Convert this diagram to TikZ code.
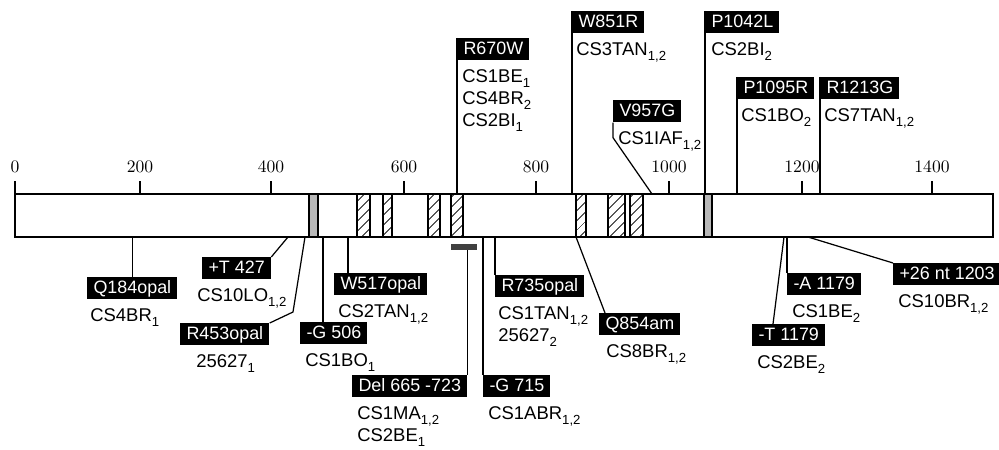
\documentclass[tikz,border=0pt]{standalone}
\usepackage{fontspec}
\setsansfont{Liberation Sans}
\usetikzlibrary{patterns.meta}
\newcommand{\ix}[1]{\raisebox{-.5ex}{\fontsize{7.5}{8}\selectfont #1}}

\begin{document}
\begin{tikzpicture}[x=0.02cm, y=-0.02cm,
        mut/.style={fill=black, text=white, anchor=north west, font=\sffamily\fontsize{10.2}{12}\selectfont,
            inner xsep=3.5pt, inner ysep=1pt, text height=8pt, text depth=2.5pt},
        info/.style={anchor=north west, inner sep=0pt, align=left, font=\sffamily\fontsize{10.5}{12.5}\selectfont},
        lead/.style={line width=0.7pt},
        hatch/.style={draw, line width=0.6pt, pattern={Lines[angle=45, distance=4pt, line width=0.5pt]}},
        stip/.style={draw, line width=0.6pt, fill=black!28}]
        \useasboundingbox (0,0) rectangle (999,449);

        % the gene bar and its scale
        \draw[line width=0.8pt] (15,194) rectangle (993,237);
        \coordinate (top) at (15,194);
        \coordinate (bot) at (15,237);
        \foreach \x/\v in {15/0, 140/200, 271/400, 404/600, 536/800, 669/1000, 802/1200, 932/1400} {
            \draw[line width=0.9pt] (\x,181) -- (\x,194);
            \node (n\v) at (\x,167) {\v};
        }
        \filldraw[stip] (309,194) rectangle (318,237);
        \filldraw[stip] (704,194) rectangle (712,237);
        \foreach \a/\b in {357/370, 383/392, 428/440, 451/463, 576/586, 608/625, 630/643} {
            \draw[hatch] (\a,194) rectangle (\b,237);
        }
        \fill[black!75] (451,244) rectangle (477,250);
        \coordinate (dbar) at (464,250);

        % above the bar
        \node[mut] (r670) at (457,38) {R670W};
        \node[info] (r670i) at ([shift={(5,9)}]r670.south west) {CS1BE\ix{1}\\CS4BR\ix{2}\\CS2BI\ix{1}};
        \draw[lead] (r670.north west) -- (r670.north west |- top);

        \node[mut] (w851) at (572,11) {W851R};
        \node[info] (w851i) at ([shift={(4,9)}]w851.south west) {CS3TAN\ix{1,2}};
        \draw[lead] (w851.north west) -- (w851.north west |- top);

        \node[mut] (v957) at (613,100) {V957G};
        \node[info] (v957i) at ([shift={(5,9)}]v957.south west) {CS1IAF\ix{1,2}};
        \draw[lead] (v957.south west) -- ++(0,15) -- (652,0 |- top);

        \node[mut] (p1042) at (705,11) {P1042L};
        \node[info] (p1042i) at ([shift={(6,9)}]p1042.south west) {CS2BI\ix{2}};
        \draw[lead] (p1042.north west) -- (p1042.north west |- top);

        \node[mut] (p1095) at (737,77) {P1095R};
        \node[info] (p1095i) at ([shift={(4,9)}]p1095.south west) {CS1BO\ix{2}};
        \draw[lead] (p1095.north west) -- (p1095.north west |- top);

        \node[mut] (r1213) at (820,77) {R1213G};
        \node[info] (r1213i) at ([shift={(4,9)}]r1213.south west) {CS7TAN\ix{1,2}};
        \draw[lead] (r1213.north west) -- (r1213.north west |- top);

        % below the bar
        \node[mut] (q184) at (87,277) {Q184opal};
        \node[info] (q184i) at ([shift={(3,9)}]q184.south west) {CS4BR\ix{1}};
        \draw[lead] (q184.north) -- (q184.north |- bot);

        \node[mut] (t427) at (202,257) {+T 427};
        \node[info] (t427i) at ([shift={(-5,9)}]t427.south west) {CS10LO\ix{1,2}};
        \draw[lead] (t427.north east) -- (288,0 |- bot);

        \node[mut] (r453) at (180,323) {R453opal};
        \node[info] (r453i) at ([shift={(16,9)}]r453.south west) {25627\ix{1}};
        \draw[lead] (r453.north east) -- (293,312) -- (305,0 |- bot);

        \node[mut] (g506) at (300,322) {-G 506};
        \node[info] (g506i) at ([shift={(5,9)}]g506.south west) {CS1BO\ix{1}};
        \draw[lead] (323,0 |- g506.north) -- (323,0 |- bot);

        \node[mut] (w517) at (334,273) {W517opal};
        \node[info] (w517i) at ([shift={(4,9)}]w517.south west) {CS2TAN\ix{1,2}};
        \draw[lead] (348,0 |- w517.north) -- (348,0 |- bot);

        \node[mut] (del) at (352,375) {Del 665 -723};
        \node[info] (deli) at ([shift={(5,9)}]del.south west) {CS1MA\ix{1,2}\\CS2BE\ix{1}};
        \draw[lead] (del.north east) -- (del.north east |- dbar);

        \node[mut] (r735) at (495,275) {R735opal};
        \node[info] (r735i) at ([shift={(3,9)}]r735.south west) {CS1TAN\ix{1,2}\\25627\ix{2}};
        \draw[lead] (r735.north west) -- (r735.north west |- bot);

        \node[mut] (g715) at (483,375) {-G 715};
        \node[info] (g715i) at ([shift={(5,9)}]g715.south west) {CS1ABR\ix{1,2}};
        \draw[lead] (g715.north west) -- (g715.north west |- bot);

        \node[mut] (q854) at (599,313) {Q854am};
        \node[info] (q854i) at ([shift={(7,9)}]q854.south west) {CS8BR\ix{1,2}};
        \draw[lead] (605,0 |- q854.north) -- (576,0 |- bot);

        \node[mut] (a1179) at (787,273) {-A 1179};
        \node[info] (a1179i) at ([shift={(5,9)}]a1179.south west) {CS1BE\ix{2}};
        \draw[lead] (a1179.north west) -- (a1179.north west |- bot);

        \node[mut] (t1179) at (752,324) {-T 1179};
        \node[info] (t1179i) at ([shift={(5,9)}]t1179.south west) {CS2BE\ix{2}};
        \draw[lead] (773,0 |- t1179.north) -- (784,0 |- bot);

        \node[mut] (nt1203) at (893,263) {+26 nt 1203};
        \node[info] (nt1203i) at ([shift={(5,9)}]nt1203.south west) {CS10BR\ix{1,2}};
        \draw[lead] (nt1203.north west) -- (808,0 |- bot);
    \end{tikzpicture}
\end{document}
